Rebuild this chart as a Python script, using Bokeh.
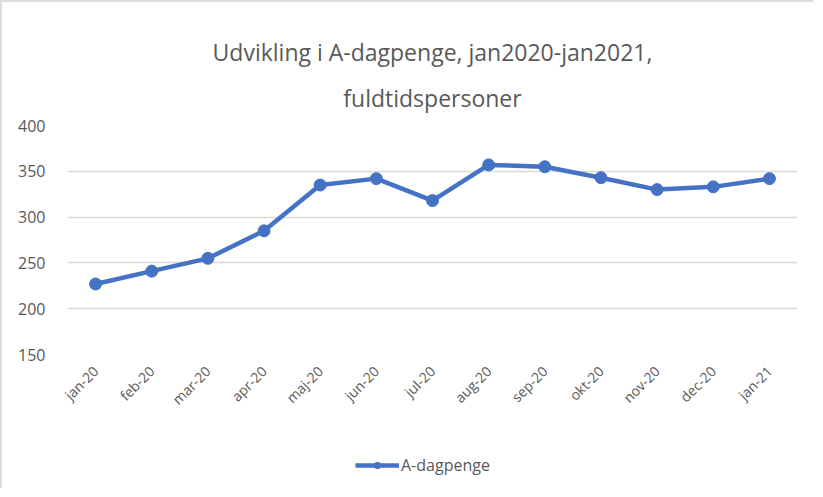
import math
from bokeh.plotting import figure
from bokeh.layouts import column
from bokeh.models import Range1d, FixedTicker, Legend, LegendItem, Title
from bokeh.embed import file_html
from bokeh.resources import INLINE

months = ["jan-20", "feb-20", "mar-20", "apr-20", "maj-20", "jun-20", "jul-20",
          "aug-20", "sep-20", "okt-20", "nov-20", "dec-20", "jan-21"]
a_dagpenge = [227, 241, 255, 285, 335, 342, 318, 357, 355, 343, 330, 333, 342]
y_ticks = [150, 200, 250, 300, 350, 400]
title_lines = ["Udvikling i A-dagpenge, jan2020-jan2021,", "fuldtidspersoner"]
series_name = "A-dagpenge"

FONT = "Open Sans"
GREY = "#595959"
BLUE = "#4472C4"

p = figure(x_range=months, frame_width=730, frame_height=229, output_backend="svg",
           toolbar_location=None, min_border_left=65, min_border_right=16,
           min_border_top=123, min_border_bottom=0)
p.y_range = Range1d(150, 400)
p.outline_line_color = None
p.background_fill_color = "white"
p.border_fill_color = "white"

p.line(months, a_dagpenge, line_color=BLUE, line_width=4.5)
p.scatter(months, a_dagpenge, size=12, fill_color=BLUE, line_color=BLUE)

p.xgrid.grid_line_color = None
p.ygrid.grid_line_color = "#d9d9d9"
p.ygrid.grid_line_width = 1.5
p.yaxis.ticker = FixedTicker(ticks=y_ticks)
p.yaxis.axis_line_color = None
p.yaxis.major_tick_line_color = None
p.yaxis.minor_tick_line_color = None
p.yaxis.major_label_standoff = 16
p.yaxis.major_label_text_font = FONT
p.yaxis.major_label_text_font_size = "16px"
p.yaxis.major_label_text_color = GREY

p.xaxis.axis_line_color = None
p.xaxis.major_tick_line_color = None
p.xaxis.major_label_orientation = math.pi / 4
p.xaxis.major_label_standoff = 8
p.xaxis.major_label_text_font = FONT
p.xaxis.major_label_text_font_size = "14px"
p.xaxis.major_label_text_color = GREY

for i, t in enumerate(reversed(title_lines)):
    p.add_layout(Title(text=t, align="center", text_font=FONT,
                       text_font_size="23px", text_font_style="normal",
                       text_line_height=0.9, text_color=GREY,
                       standoff=24 if i == 0 else 0), "above")

# legend strip below the chart (series drawn outside its visible range)
p2 = figure(width=811, height=70, output_backend="svg", toolbar_location=None,
            x_axis_location=None, y_axis_location=None, min_border=0,
            x_range=months, y_range=Range1d(0, 1))
p2.outline_line_color = None
p2.grid.grid_line_color = None
lr = p2.line(months, a_dagpenge, line_color=BLUE, line_width=4.5)
cr = p2.scatter(months, a_dagpenge, size=12, fill_color=BLUE, line_color=BLUE)
legend = Legend(items=[LegendItem(label=series_name, renderers=[lr, cr])],
                orientation="horizontal", location=(288, 12),
                label_text_font=FONT, label_text_font_size="16px",
                label_text_color=GREY, border_line_color=None,
                background_fill_alpha=0,
                glyph_width=44, glyph_height=16, margin=0, padding=2,
                label_standoff=2)
p2.add_layout(legend, "center")

layout = column(p, p2, spacing=0,
                styles={"border-left": "2px solid #dedede", "border-top": "2px solid #dedede"})

open("out.html", "w").write(file_html(layout, INLINE))
